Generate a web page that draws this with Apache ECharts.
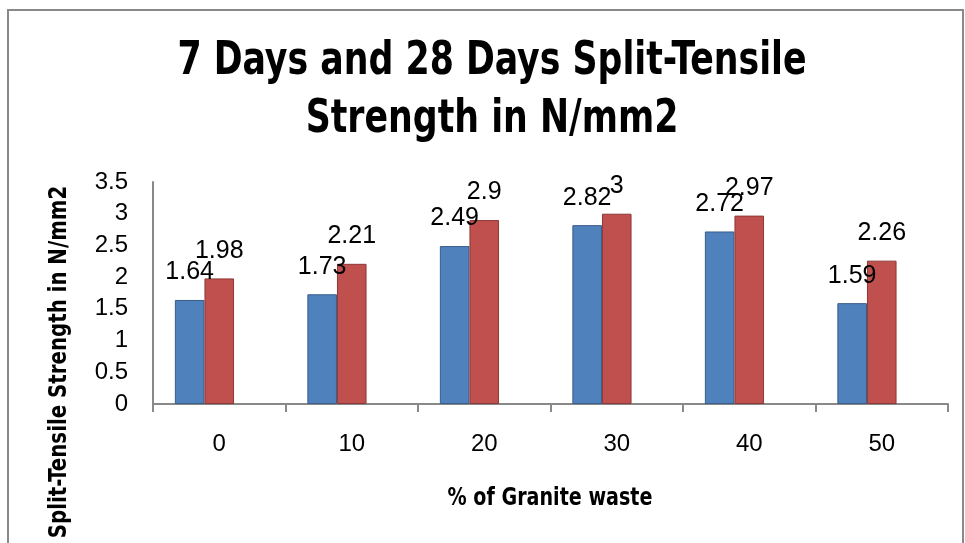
<!DOCTYPE html>
<html>
<head>
<meta charset="utf-8">
<title>Split-Tensile Strength</title>
<script src="https://cdn.jsdelivr.net/npm/echarts@6/dist/echarts.min.js"></script>
<style>
  html, body { margin: 0; padding: 0; background: #fff; }
  #chart { width: 965px; height: 543px; }
</style>
</head>
<body>
<div id="chart"></div>
<script>
// data
var categories = ['0', '10', '20', '30', '40', '50'];
var days7 = [1.64, 1.73, 2.49, 2.82, 2.72, 1.59];
var days28 = [1.98, 2.21, 2.9, 3, 2.97, 2.26];
var yTicks = { min: 0, max: 3.5, interval: 0.5 };

var narrow = "'Liberation Sans Narrow', 'DejaVu Sans Condensed', sans-serif";
var plain = "'Liberation Sans', Arial, sans-serif";
var axisGray = '#898989';

var chart = echarts.init(document.getElementById('chart'));

function barSeries (name, values, color, border) {
  return {
    name: name,
    type: 'bar',
    data: values,
    barGap: 0,
    barCategoryGap: '33%',
    itemStyle: {
      color: color,
      borderColor: border,
      borderWidth: 1
    },
    label: {
      show: true,
      position: 'top',
      distance: 15,
      color: '#000',
      fontFamily: plain,
      fontSize: 25
    }
  };
}

// bold narrow-looking text (no narrow font installed, so squeeze it)
function boldText (text, x, y, size, squeeze, rotation) {
  return {
    type: 'text',
    x: x,
    y: y,
    rotation: rotation || 0,
    scaleX: squeeze,
    style: {
      text: text,
      fontFamily: narrow,
      fontWeight: 'bold',
      fontSize: size,
      lineHeight: 58,
      fill: '#000',
      align: 'center',
      verticalAlign: 'middle'
    }
  };
}

var option = {
  animation: false,
  grid: {
    left: 153,
    right: 17,
    top: 182,
    bottom: 139
  },
  xAxis: {
    type: 'category',
    data: categories,
    axisLine: { lineStyle: { color: axisGray, width: 2 } },
    axisTick: { show: true, length: 8, lineStyle: { color: axisGray, width: 2 } },
    axisLabel: {
      margin: 28,
      fontFamily: plain,
      fontSize: 24,
      color: '#000'
    }
  },
  yAxis: {
    type: 'value',
    min: yTicks.min,
    max: yTicks.max,
    interval: yTicks.interval,
    splitLine: { show: false },
    axisTick: { show: false },
    axisLine: { show: true, lineStyle: { color: axisGray, width: 2 } },
    axisLabel: {
      margin: 25,
      fontFamily: plain,
      fontSize: 24,
      color: '#000'
    }
  },
  graphic: [
    {
      type: 'rect',
      z: -1,
      shape: { x: 8, y: 10, width: 955, height: 600 },
      style: { fill: 'none', stroke: axisGray, lineWidth: 2 }
    },
    boldText('7 Days and 28 Days Split-Tensile\nStrength in N/mm2', 492, 91, 46, 0.84),
    boldText('% of Granite waste', 550, 498, 25, 0.85),
    boldText('Split-Tensile Strength in N/mm2', 59, 362, 25, 0.88, Math.PI / 2)
  ],
  series: [
    barSeries('7 Days', days7, '#4F81BD', '#385D8A'),
    barSeries('28 Days', days28, '#C0504D', '#8C3836'),
    // empty third slot, the original keeps room for it in every group
    { name: '', type: 'bar', data: [], barGap: 0, barCategoryGap: '33%' }
  ]
};

chart.setOption(option);
</script>
</body>
</html>
